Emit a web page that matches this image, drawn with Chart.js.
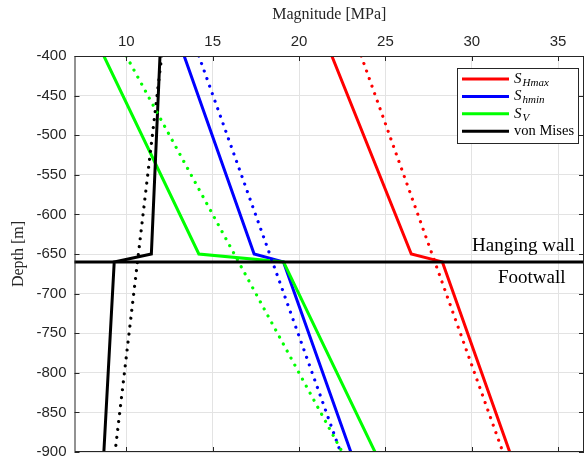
<!DOCTYPE html>
<html>
<head>
<meta charset="utf-8">
<script src="https://cdn.jsdelivr.net/npm/chart.js@4.4.1/dist/chart.umd.min.js"></script>
<style>
html,body{margin:0;padding:0;background:#fff}
#wrap{width:585px;height:464px}
</style>
</head>
<body>
<div id="wrap"><canvas id="chart" width="585" height="464"></canvas></div>
<script>
// depths where the solid profiles bend (m)
const depthKinks=[-400,-650,-660,-900]
const sHmax=[21.9,26.5,28.3,32.2]
const sHmin=[13.35,17.4,19.1,23.0]
const sV=[8.7,14.2,19.1,24.4]
const vonMises=[11.95,11.45,9.3,8.7]

// dotted reference profiles (straight)
const depthEnds=[-400,-900]
const sHmaxRef=[23.6,31.8]
const sHminRef=[14.2,22.4]
const sVRef=[10.0,22.5]
const vonMisesRef=[12.05,9.35]

const faultDepth=-660
const xTicks=[10,15,20,25,30,35]
const yTicks=[-400,-450,-500,-550,-600,-650,-700,-750,-800,-850,-900]

const RED="#ff0000",BLUE="#0000ff",GREEN="#00ff00",BLACK="#000000"

function pts(xs,ys){return xs.map((v,k)=>({x:v,y:ys[k]}))}

function solid(label,xs,color,order){
return{label:label,data:pts(xs,depthKinks),borderColor:color,borderWidth:3,
pointRadius:0,tension:0,order:order,borderJoinStyle:"miter"}
}
function dotted(label,xs,color,order){
return{label:label,data:pts(xs,depthEnds),borderColor:color,borderWidth:3.2,
borderDash:[0.001,8],borderCapStyle:"round",pointRadius:0,tension:0,order:order}
}

const legendItems=[
{color:RED,main:"S",sub:"Hmax"},
{color:BLUE,main:"S",sub:"hmin"},
{color:GREEN,main:"S",sub:"V"},
{color:BLACK,main:"von Mises",sub:""}
]

const decor={
id:"decor",
afterDatasetsDraw(chart){
const ctx=chart.ctx,a=chart.chartArea
const xs=chart.scales.x,ys=chart.scales.y
ctx.save()
// box
ctx.strokeStyle="#262626"
ctx.lineWidth=1
ctx.strokeRect(a.left+0.5,a.top+0.5,a.right-a.left-1,a.bottom-a.top-1)
// inward ticks
ctx.beginPath()
xTicks.forEach(v=>{
const px=Math.round(xs.getPixelForValue(v))+0.5
ctx.moveTo(px,a.top);ctx.lineTo(px,a.top+5)
ctx.moveTo(px,a.bottom);ctx.lineTo(px,a.bottom-5)
})
yTicks.forEach(v=>{
const py=Math.round(ys.getPixelForValue(v))+0.5
ctx.moveTo(a.left,py);ctx.lineTo(a.left+5,py)
ctx.moveTo(a.right,py);ctx.lineTo(a.right-5,py)
})
ctx.stroke()

// fault labels
ctx.fillStyle="#000"
ctx.font="19px 'Liberation Serif'"
ctx.textBaseline="alphabetic"
ctx.textAlign="left"
ctx.fillText("Hanging wall",472,251)
ctx.fillText("Footwall",498,283)

// legend
const lx=457,ly=68,lw=121,lh=75
ctx.fillStyle="#fff"
ctx.fillRect(lx,ly,lw,lh)
ctx.strokeStyle="#262626"
ctx.lineWidth=1
ctx.strokeRect(lx+0.5,ly+0.5,lw,lh)
legendItems.forEach((it,k)=>{
const y=79+k*17.4
ctx.strokeStyle=it.color
ctx.lineWidth=3
ctx.beginPath();ctx.moveTo(462,y);ctx.lineTo(509,y);ctx.stroke()
ctx.fillStyle="#000"
ctx.textBaseline="middle"
if(it.sub){
ctx.font="italic 15px 'Liberation Serif'"
ctx.fillText(it.main,514,y)
const w=ctx.measureText(it.main).width
ctx.font="italic 11px 'Liberation Serif'"
ctx.fillText(it.sub,514+w+1,y+4)
}else{
ctx.font="14.5px 'Liberation Serif'"
ctx.fillText(it.main,514,y)
}
})

// axis titles
ctx.fillStyle="#262626"
ctx.font="16px 'Liberation Serif'"
ctx.textAlign="center"
ctx.textBaseline="middle"
ctx.fillText("Magnitude [MPa]",(a.left+a.right)/2,15)
ctx.translate(19,(a.top+a.bottom)/2)
ctx.rotate(-Math.PI/2)
ctx.fillText("Depth [m]",0,0)
ctx.restore()
}
}

new Chart(document.getElementById("chart"),{
type:"line",
data:{datasets:[
{label:"fault",data:[{x:0,y:faultDepth},{x:50,y:faultDepth}],borderColor:BLACK,borderWidth:3,pointRadius:0,order:0},
solid("SHmax",sHmax,RED,8),
solid("Shmin",sHmin,BLUE,7),
solid("SV",sV,GREEN,6),
solid("von Mises",vonMises,BLACK,5),
dotted("SHmax ref",sHmaxRef,RED,4),
dotted("Shmin ref",sHminRef,BLUE,3),
dotted("SV ref",sVRef,GREEN,2),
dotted("von Mises ref",vonMisesRef,BLACK,1)
]},
options:{
responsive:false,
animation:false,
layout:{padding:{left:0,right:1,top:0,bottom:12}},
plugins:{legend:{display:false},tooltip:{enabled:false}},
scales:{
x:{type:"linear",position:"top",min:7,max:36.5,
afterBuildTicks:s=>{s.ticks=xTicks.map(v=>({value:v}))},
afterFit:s=>{s.height=56;s.paddingLeft=0;s.paddingRight=0},
grid:{color:"#e3e3e3",drawTicks:false},
border:{display:false},
ticks:{padding:5,color:"#262626",font:{family:"'Liberation Sans'",size:15}}},
y:{type:"linear",min:-900,max:-400,
afterBuildTicks:s=>{s.ticks=yTicks.map(v=>({value:v}))},
afterFit:s=>{s.width=74.5;s.paddingTop=0;s.paddingBottom=0},
grid:{color:"#e3e3e3",drawTicks:false},
border:{display:false},
ticks:{padding:8,color:"#262626",font:{family:"'Liberation Sans'",size:15}}}
}
},
plugins:[decor]
})
</script>
</body>
</html>
